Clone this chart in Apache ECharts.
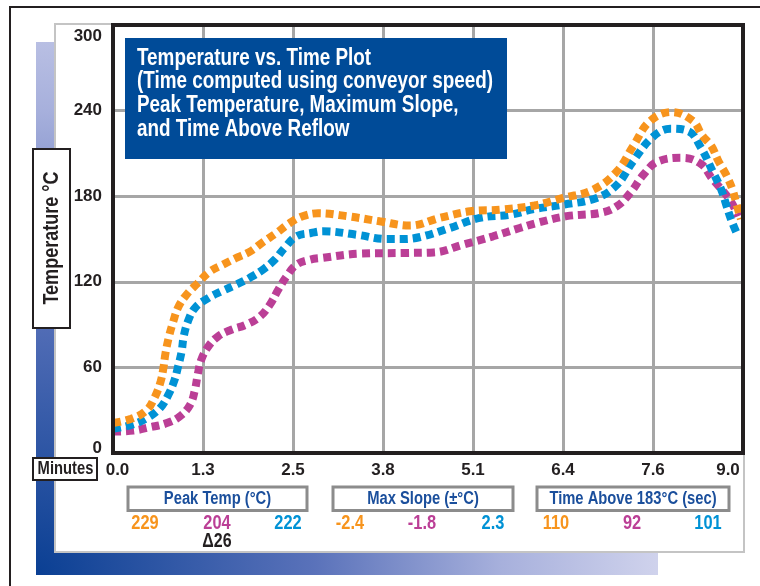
<!DOCTYPE html>
<html><head><meta charset="utf-8">
<script src="https://cdn.jsdelivr.net/npm/echarts@6/dist/echarts.min.js"></script>
<style>html,body{margin:0;padding:0;background:#fff}#c{width:760px;height:586px}</style>
</head><body><div id="c"></div>
<script>
// ---- data ----
const xTickLabels = ['0.0','1.3','2.5','3.8','5.1','6.4','7.6','9.0'];
const seriesNames = ['Profile 1','Profile 2','Profile 3'];

const orangeTime = [0.00,0.26,0.48,0.60,0.68,0.72,0.75,0.80,0.86,0.93,1.05,1.21,1.38,1.57,1.76,1.95,2.14,2.33,2.52,2.71,2.93,3.34,3.81,4.24,4.67,5.10,5.55,6.02,6.43,6.86,7.20,7.43,7.67,7.98,8.29,8.41,8.55,8.65,8.76,8.85,8.91,8.97];
const orangeTemp = [21,24,30,39.5,50,59.5,70,81.7,92,102,111,119,127,132,136.7,141,147.7,154,161,166,168,166,162.4,159.4,164.8,169.4,170.6,173.5,178.8,184.6,197.5,215,232.6,239,232.6,223,215,204.5,195,184.6,174,164];

const blueTime = [0.00,0.26,0.48,0.67,0.79,0.88,0.93,0.98,1.01,1.07,1.17,1.36,1.55,1.76,1.95,2.14,2.31,2.45,2.62,2.83,3.00,3.48,3.91,4.15,4.39,4.81,5.24,5.67,6.02,6.43,6.91,7.20,7.43,7.70,7.96,8.22,8.40,8.58,8.69,8.76,8.83,8.92];
const blueTemp = [17,19.7,24.3,31.4,40.7,51.3,60.6,71,81.7,92.2,101.6,108.6,113.3,118,122.7,128.5,135.5,143.7,151.9,154.2,155.4,153,150,150,151.4,157.7,164.8,167,171,174,178.8,188,204.5,221,227.3,225.6,214,196,184.6,174,163.6,153];

const magentaTime = [0.00,0.29,0.52,0.76,0.95,1.10,1.17,1.21,1.26,1.36,1.50,1.69,1.90,2.10,2.24,2.36,2.48,2.62,2.81,2.98,3.53,4.15,4.58,5.00,5.43,5.81,6.06,6.48,6.96,7.20,7.39,7.58,7.79,8.15,8.41,8.55,8.81,8.93];
const magentaTemp = [15,15.7,18,20.8,25.5,33.7,44.2,54.8,65.3,74.6,81.7,86.4,89.9,95.7,103.9,114.4,123.8,132,135.5,136.7,139.7,140.2,140.6,146,151.9,157.7,161.3,166,168.3,173,182.3,195.2,204.5,206.9,202.2,192.9,177.6,166];

const titleLines = ['Temperature vs. Time Plot','(Time computed using conveyor speed)','Peak Temperature, Maximum Slope,','and Time Above Reflow'];
const legendTitles = ['Peak Temp (°C)','Max Slope (±°C)','Time Above 183°C (sec)'];
const peakTemp = ['229','204','222'];
const maxSlope = ['-2.4','-1.8','2.3'];
const timeAbove = ['110','92','101'];
const peakDelta = '\u039426';

// ---- styling ----
const ORANGE = '#f7941d', MAGENTA = '#bb3f96', BLUE = '#0092d5';
const SANS = '"Liberation Sans", Arial, Helvetica, sans-serif';
const INK = '#231f20';
const LEGBLUE = '#1b4f9c';
const NARROW_X = 0.82;

function pairs(t, v) { return t.map((x, i) => [x, v[i]]); }
function lineSeries(name, t, v, color) {
  return {
    name, type: 'line', data: pairs(t, v), smooth: 0.4, symbol: 'none', showSymbol: false,
    lineStyle: { color, width: 8, type: [8, 5], cap: 'butt' }, z: 3
  };
}

const chart = echarts.init(document.getElementById('c'), null, { renderer: 'canvas' });

const font = (size) => 'bold ' + size + 'px ' + SANS;
const valueColors = [ORANGE, MAGENTA, BLUE];
const legendBoxes = [ {x:128, w:179, vx:[145,217,288], vals: peakTemp},
                      {x:333, w:180, vx:[350,422,493], vals: maxSlope},
                      {x:537, w:192, vx:[556,632,708], vals: timeAbove} ];

function narrowText(x, y, text, size, color, align, extra) {
  return Object.assign({ type:'text', z:101, silent:true, x, y, scaleX: NARROW_X,
    style:{ text, font: font(size), fill: color, align: align || 'center', verticalAlign:'middle' } }, extra || {});
}

const graphics = [
  // outer frame
  { type:'rect', z:-20, silent:true, shape:{x:10, y:7, width:800, height:700}, style:{fill:'none', stroke:INK, lineWidth:2} },
  // shadow
  { type:'rect', z:-19, silent:true, shape:{x:36, y:42, width:622, height:533},
    style:{ fill: new echarts.graphic.RadialGradient(36, 575, 620, [
      {offset:0, color:'#0a3f93'}, {offset:0.45, color:'#5a72ba'}, {offset:0.75, color:'#a7b0dc'}, {offset:1, color:'#cfd2ec'}], true) } },
  // white panel
  { type:'rect', z:-18, silent:true, shape:{x:55, y:24, width:689, height:528}, style:{fill:'#ffffff', stroke:'#c4c4c4', lineWidth:2} },
  // plot frame
  { type:'rect', z:50, silent:true, shape:{x:113, y:25, width:630, height:428}, style:{fill:'none', stroke:INK, lineWidth:4} },
  // title box
  { type:'rect', z:100, silent:true, shape:{x:125, y:38, width:382, height:121}, style:{fill:'#004b98'} },
  { type:'text', z:101, silent:true, x:137, y:46.5, scaleX: NARROW_X,
    style:{ text: titleLines.join('\n'), font: font(23), fill:'#ffffff', lineHeight:23.7, align:'left', verticalAlign:'top' } },
  // y name box
  { type:'rect', z:100, silent:true, shape:{x:33, y:149, width:37, height:179}, style:{fill:'#fff', stroke:INK, lineWidth:2} },
  narrowText(52, 238, 'Temperature °C', 22, INK, 'center', { rotation: Math.PI/2 }),
  // x name box
  { type:'rect', z:100, silent:true, shape:{x:33, y:458, width:64, height:22}, style:{fill:'#fff', stroke:INK, lineWidth:2} },
  narrowText(65.5, 469.5, 'Minutes', 18, INK),
  // delta
  narrowText(217, 541.5, peakDelta, 19.5, INK)
];
legendBoxes.forEach((b, k) => {
  graphics.push({ type:'rect', z:100, silent:true, shape:{x:b.x, y:487, width:b.w, height:23.5}, style:{fill:'#fff', stroke:'#8c8c8c', lineWidth:3} });
  graphics.push(narrowText(b.x + b.w/2, 498.8, legendTitles[k], 18, LEGBLUE));
  b.vals.forEach((v, i) => {
    graphics.push(narrowText(b.vx[i], 523.5, v, 20, valueColors[i]));
  });
});

const LBL = 17;
const option = {
  animation: false,
  backgroundColor: '#ffffff',
  grid: { left:113, right:17, top:25, bottom:133, show:false, containLabel:false },
  xAxis: {
    type:'value', min:0, max:9, interval:9/7,
    axisLine:{show:false}, axisTick:{show:false},
    splitLine:{show:true, lineStyle:{color:'#a6a6a6', width:3}},
    axisLabel:{
      margin:8.5, color:INK, fontFamily:SANS, fontWeight:'bold', fontSize:LBL,
      formatter: (v) => {
        const i = Math.round(v / (9/7));
        const s = xTickLabels[i];
        if (i === 0) return '{f|' + s + '}';
        if (i === xTickLabels.length - 1) return '{l|' + s + '}';
        return s;
      },
      rich:{
        f:{padding:[0,0,0,9], color:INK, fontFamily:SANS, fontWeight:'bold', fontSize:LBL},
        l:{padding:[0,30,0,0], color:INK, fontFamily:SANS, fontWeight:'bold', fontSize:LBL}
      }
    }
  },
  yAxis: {
    type:'value', min:0, max:300, interval:60,
    axisLine:{show:false}, axisTick:{show:false},
    splitLine:{show:true, lineStyle:{color:'#a6a6a6', width:3}},
    axisLabel:{
      margin:11, color:INK, fontFamily:SANS, fontWeight:'bold', fontSize:LBL,
      formatter: (v) => v === 300 ? '{t|300}' : (v === 0 ? '{b|0}' : String(v)),
      rich:{
        t:{padding:[22,0,0,0], color:INK, fontFamily:SANS, fontWeight:'bold', fontSize:LBL},
        b:{padding:[0,0,10,0], color:INK, fontFamily:SANS, fontWeight:'bold', fontSize:LBL}
      }
    }
  },
  graphic: graphics,
  series: [
    lineSeries(seriesNames[1], magentaTime, magentaTemp, MAGENTA),
    lineSeries(seriesNames[2], blueTime, blueTemp, BLUE),
    lineSeries(seriesNames[0], orangeTime, orangeTemp, ORANGE)
  ]
};
chart.setOption(option);
</script></body></html>
